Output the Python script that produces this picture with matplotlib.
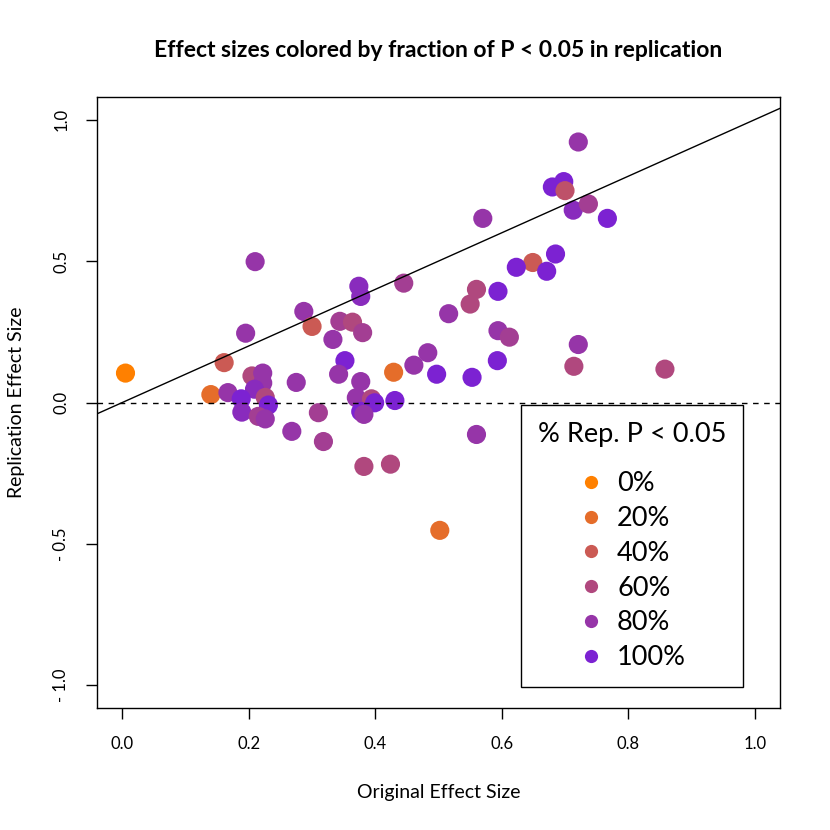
import numpy as np
import matplotlib
matplotlib.use("Agg")
from matplotlib import pyplot as plt
from matplotlib.colors import to_rgb
from matplotlib.lines import Line2D

plt.rcParams["font.family"] = ["Lato", "DejaVu Sans"]

# original vs replication effect sizes, and fraction of replications with P < 0.05
orig = [0.005, 0.140, 0.161, 0.210, 0.195, 0.167, 0.205, 0.222, 0.222, 0.209,
        0.188, 0.226, 0.231, 0.189, 0.215, 0.226, 0.268, 0.275, 0.287, 0.300,
        0.344, 0.364, 0.380, 0.333, 0.352, 0.342, 0.377, 0.374, 0.377, 0.445,
        0.429, 0.461, 0.483, 0.497, 0.553, 0.516, 0.550, 0.560, 0.370, 0.394,
        0.399, 0.431, 0.377, 0.382, 0.310, 0.318, 0.382, 0.424, 0.560, 0.502,
        0.721, 0.698, 0.680, 0.700, 0.713, 0.737, 0.767, 0.570, 0.685, 0.649,
        0.671, 0.623, 0.594, 0.594, 0.612, 0.593, 0.721, 0.714, 0.858]
rep = [0.104, 0.028, 0.141, 0.498, 0.245, 0.035, 0.094, 0.104, 0.069, 0.047,
       0.013, 0.018, -0.009, -0.034, -0.049, -0.058, -0.102, 0.071, 0.322, 0.269,
       0.287, 0.284, 0.247, 0.223, 0.148, 0.100, 0.074, 0.411, 0.375, 0.422,
       0.107, 0.132, 0.176, 0.100, 0.089, 0.314, 0.348, 0.400, 0.017, 0.013,
       -0.001, 0.007, -0.032, -0.042, -0.036, -0.138, -0.226, -0.218, -0.113, -0.452,
       0.921, 0.781, 0.762, 0.749, 0.680, 0.702, 0.651, 0.651, 0.525, 0.495,
       0.464, 0.478, 0.393, 0.254, 0.231, 0.148, 0.205, 0.128, 0.118]
frac = [0.0, 0.2, 0.4, 0.8, 0.8, 0.8, 0.6, 0.8, 0.8, 0.9,
        1.0, 0.6, 1.0, 0.9, 0.7, 0.8, 0.8, 0.8, 0.8, 0.4,
        0.7, 0.6, 0.7, 0.8, 1.0, 0.8, 0.8, 0.9, 0.9, 0.7,
        0.2, 0.8, 0.8, 1.0, 1.0, 0.8, 0.6, 0.6, 0.8, 0.6,
        1.0, 1.0, 1.0, 0.8, 0.7, 0.7, 0.6, 0.6, 0.8, 0.2,
        0.8, 1.0, 1.0, 0.5, 0.9, 0.7, 1.0, 0.8, 1.0, 0.4,
        1.0, 1.0, 1.0, 0.8, 0.7, 1.0, 0.8, 0.6, 0.6]

legend_levels = [0.0, 0.2, 0.4, 0.6, 0.8, 1.0]
legend_labels = ["0%", "20%", "40%", "60%", "80%", "100%"]

c_lo = np.array(to_rgb("#FF8000"))
c_hi = np.array(to_rgb("#7C22D2"))


def ramp(f):
    return tuple(c_lo + (c_hi - c_lo) * f)


fig = plt.figure(figsize=(8.3, 8.3), dpi=100)
ax = fig.add_axes([0.1169, 0.147, 0.8229, 0.7361])

ax.scatter(orig, rep, s=190, c=[ramp(f) for f in frac], edgecolors="none", zorder=2)

ax.set_xlim(-0.04, 1.04)
ax.set_ylim(-1.08, 1.08)
ax.axline((0, 0), slope=1, color="black", lw=1, zorder=3)
ax.axhline(0, color="black", lw=1, ls=(0, (4, 4)), zorder=3)

ax.set_xticks([0.0, 0.2, 0.4, 0.6, 0.8, 1.0])
ax.set_xticklabels(["0.0", "0.2", "0.4", "0.6", "0.8", "1.0"])
ax.set_yticks([-1.0, -0.5, 0.0, 0.5, 1.0])
ax.set_yticklabels(["- 1.0", "- 0.5", "0.0", "0.5", "1.0"], rotation=90, va="center")
ax.tick_params(direction="out", length=8, width=1, labelsize=12, pad=12)
for sp in ax.spines.values():
    sp.set_linewidth(1)

ax.set_xlabel("Original Effect Size", fontsize=14, labelpad=23)
ax.set_ylabel("Replication Effect Size", fontsize=14, labelpad=20)
ax.set_title("Effect sizes colored by fraction of P < 0.05 in replication",
             fontsize=16.5, fontweight="bold", pad=29)

handles = [Line2D([], [], ls="none", marker="o", markersize=9.5,
                  markerfacecolor=ramp(f), markeredgecolor="none")
           for f in legend_levels]
leg = ax.legend(handles, legend_labels, title="% Rep. P < 0.05",
                loc="lower right", bbox_to_anchor=(0.946, 0.034), borderaxespad=0,
                fontsize=19.5, title_fontsize=19.5, frameon=True, fancybox=False,
                edgecolor="black", framealpha=1, borderpad=0.63,
                labelspacing=0.36, handletextpad=0.45, handlelength=1.0)
leg.get_frame().set_linewidth(1)
leg._legend_box.sep = 17.5

fig.savefig("out.png", dpi=100)
